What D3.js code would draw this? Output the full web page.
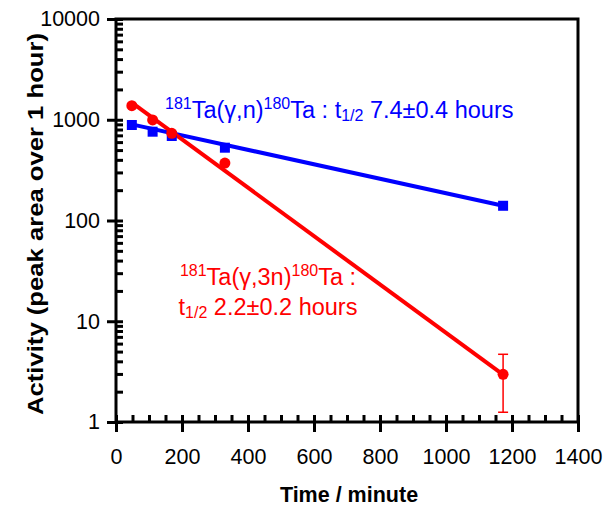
<!DOCTYPE html>
<html>
<head>
<meta charset="utf-8">
<script src="https://cdn.jsdelivr.net/npm/d3@7"></script>
<style>
  body { margin: 0; background: #fff; }
  text { font-family: "Liberation Sans", Arial, sans-serif; }
</style>
</head>
<body>
<script>
// Data
const timeMin = [48, 111, 169, 330, 1173];
const ta180n = [887, 761, 690, 528, 140];        // 181Ta(g,n)180Ta, blue squares
const ta180_3n = [1378, 995, 734, 372, 2.97];    // 181Ta(g,3n)180Ta, red circles
const errLow3n = [null, null, null, null, 1.25];
const errHigh3n = [null, null, null, null, 4.7];
// exponential fit end points
const fitN = [[48, 900], [1173, 140]];
const fit3n = [[48, 1480], [1173, 2.95]];
const xTicks = [0, 200, 400, 600, 800, 1000, 1200, 1400];
const yTicks = [1, 10, 100, 1000, 10000];

const width = 612, height = 506;
const margin = { top: 19, right: 34, bottom: 84, left: 116 };

const svg = d3.select("body").append("svg")
  .attr("width", width)
  .attr("height", height);

const x = d3.scaleLinear().domain([0, 1400]).range([margin.left, width - margin.right]);
const y = d3.scaleLog().domain([1, 10000]).range([height - margin.bottom, margin.top]);

const minorY = [];
for (let p = 0; p < 4; p++) for (let k = 1; k < 10; k++) minorY.push(k * Math.pow(10, p));
minorY.push(10000);
const minorX = d3.range(0, 1401, 50);

// y axis, major ticks with labels
const yAxis = svg.append("g")
  .attr("transform", `translate(${margin.left},0)`)
  .call(d3.axisLeft(y).tickValues(yTicks).tickSize(9).tickPadding(7).tickFormat(d3.format("d")));
yAxis.selectAll("text").attr("font-size", 21.5).attr("fill", "#000");
// inner ticks
svg.append("g")
  .attr("transform", `translate(${margin.left},0)`)
  .call(d3.axisLeft(y).tickValues(minorY).tickSize(-7).tickFormat(""));

const xAxis = svg.append("g")
  .attr("transform", `translate(0,${height - margin.bottom})`)
  .call(d3.axisBottom(x).tickValues(xTicks).tickSize(10).tickPadding(17).tickFormat(d3.format("d")));
xAxis.selectAll("text").attr("font-size", 21.5).attr("fill", "#000");
svg.append("g")
  .attr("transform", `translate(0,${height - margin.bottom})`)
  .call(d3.axisBottom(x).tickValues(minorX).tickSize(-7).tickFormat(""));

svg.selectAll(".domain").remove();
svg.selectAll(".tick line").attr("stroke", "#000").attr("stroke-width", 3);

// frame
svg.append("path")
  .attr("d", `M${margin.left},${y(1)}V${y(10000)}H${x(1400)}V${y(1)}H${margin.left}`)
  .attr("fill", "none")
  .attr("stroke", "#000")
  .attr("stroke-width", 3);

// axis titles
svg.append("text")
  .attr("x", 349).attr("y", 502)
  .attr("text-anchor", "middle")
  .attr("font-size", 21.5).attr("font-weight", "bold")
  .text("Time / minute");

svg.append("text")
  .attr("transform", `translate(43,224) rotate(-90)`)
  .attr("text-anchor", "middle")
  .attr("font-size", 21.5).attr("font-weight", "bold")
  .attr("textLength", 382).attr("lengthAdjust", "spacingAndGlyphs")
  .text("Activity (peak area over 1 hour)");

const line = d3.line().x(d => x(d[0])).y(d => y(d[1]));

// fit lines
svg.append("path").datum(fitN).attr("d", line)
  .attr("fill", "none").attr("stroke", "#0000ff").attr("stroke-width", 4);
svg.append("path").datum(fit3n).attr("d", line)
  .attr("fill", "none").attr("stroke", "#ff0000").attr("stroke-width", 4);

// error bars
const errData = timeMin.map((t, i) => ({ t, lo: errLow3n[i], hi: errHigh3n[i] })).filter(d => d.lo != null);
const eb = svg.append("g").attr("stroke", "#ff0000").attr("stroke-width", 1.5);
eb.selectAll("line.v").data(errData).join("line").attr("class", "v")
  .attr("x1", d => x(d.t)).attr("x2", d => x(d.t))
  .attr("y1", d => y(d.lo)).attr("y2", d => y(d.hi));
eb.selectAll("line.lo").data(errData).join("line").attr("class", "lo")
  .attr("x1", d => x(d.t) - 5).attr("x2", d => x(d.t) + 5)
  .attr("y1", d => y(d.lo)).attr("y2", d => y(d.lo));
eb.selectAll("line.hi").data(errData).join("line").attr("class", "hi")
  .attr("x1", d => x(d.t) - 5).attr("x2", d => x(d.t) + 5)
  .attr("y1", d => y(d.hi)).attr("y2", d => y(d.hi));

// markers
svg.append("g").selectAll("rect")
  .data(timeMin.map((t, i) => [t, ta180n[i]]))
  .join("rect")
  .attr("x", d => x(d[0]) - 5).attr("y", d => y(d[1]) - 5)
  .attr("width", 10).attr("height", 10)
  .attr("fill", "#0000ff");

svg.append("g").selectAll("circle")
  .data(timeMin.map((t, i) => [t, ta180_3n[i]]))
  .join("circle")
  .attr("cx", d => x(d[0])).attr("cy", d => y(d[1]))
  .attr("r", 5.5)
  .attr("fill", "#ff0000");

// annotations
function label(parent, xPos, yPos, anchor, color, parts) {
  const t = parent.append("text")
    .attr("x", xPos).attr("y", yPos)
    .attr("text-anchor", anchor)
    .attr("fill", color)
    .attr("font-size", 23.5);
  parts.forEach(p => {
    const s = t.append("tspan").text(p.s);
    if (p.sup) s.attr("font-size", 16).attr("baseline-shift", "55%");
    else if (p.sub) s.attr("font-size", 16).attr("baseline-shift", "-20%");
  });
}

label(svg, 165, 118, "start", "#0000ff", [
  { s: "181", sup: true }, { s: "Ta(γ,n)" }, { s: "180", sup: true }, { s: "Ta : t" },
  { s: "1/2", sub: true }, { s: " 7.4±0.4 hours" }
]);

label(svg, 268, 285, "middle", "#ff0000", [
  { s: "181", sup: true }, { s: "Ta(γ,3n)" }, { s: "180", sup: true }, { s: "Ta :" }
]);
label(svg, 268, 315, "middle", "#ff0000", [
  { s: "t" }, { s: "1/2", sub: true }, { s: " 2.2±0.2 hours" }
]);
</script>
</body>
</html>
